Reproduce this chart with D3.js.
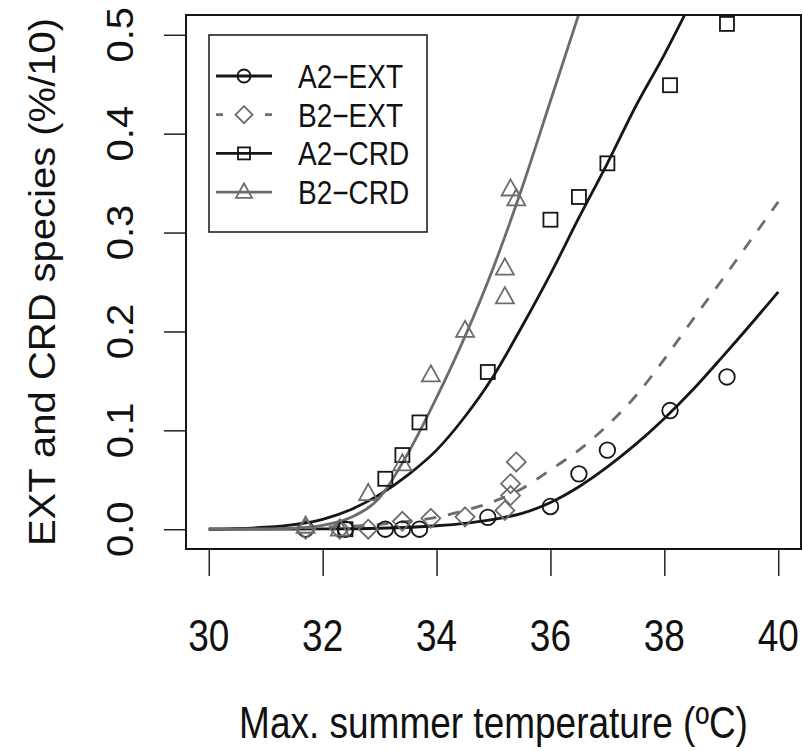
<!DOCTYPE html>
<html>
<head>
<meta charset="utf-8">
<script src="https://cdn.jsdelivr.net/npm/d3@7"></script>
<style>
  body { margin: 0; background: #fff; }
  svg { display: block; }
  text { font-family: "Liberation Sans", Arial, Helvetica, sans-serif; fill: #111; }
</style>
</head>
<body>
<svg width="804" height="751"></svg>
<script>
// observed points
const a2Temp = [31.7, 32.4, 33.1, 33.4, 33.7, 34.9, 36.0, 36.5, 37.0, 38.1, 39.1];
const a2Ext = [0, 0, 0, 0, 0, 0.012, 0.023, 0.056, 0.080, 0.120, 0.154];
const a2CrdTemp = [32.4, 33.1, 33.4, 33.7, 34.9, 36.0, 36.5, 37.0, 38.1, 39.1];
const a2Crd = [0, 0.051, 0.075, 0.108, 0.159, 0.313, 0.336, 0.370, 0.449, 0.511];
const b2Temp = [31.7, 32.3, 32.8, 33.4, 33.9, 34.5, 35.2, 35.3, 35.3, 35.4];
const b2Ext = [0, 0, 0, 0.008, 0.011, 0.0125, 0.019, 0.034, 0.046, 0.068];
const b2CrdTemp = [31.7, 32.3, 32.8, 33.4, 33.9, 34.5, 35.2, 35.2, 35.3, 35.4];
const b2Crd = [0.003, 0, 0.036, 0.066, 0.156, 0.201, 0.235, 0.264, 0.344, 0.334];

// fitted curves
const fitA2ExtX = [30, 31, 32, 33, 34, 34.5, 35, 35.5, 36, 36.5, 37, 37.5, 38, 38.5, 39, 39.5, 40];
const fitA2ExtY = [0, 0.0001, 0.0003, 0.001, 0.0035, 0.006, 0.010, 0.016, 0.027, 0.043, 0.063, 0.086, 0.112, 0.141, 0.173, 0.206, 0.240];
const fitB2ExtX = [30, 31, 32, 33, 33.5, 34, 34.5, 35, 35.5, 36, 36.5, 37, 37.5, 38, 38.5, 39, 39.5, 40];
const fitB2ExtY = [0, 0.0005, 0.002, 0.005, 0.008, 0.012, 0.019, 0.028, 0.041, 0.060, 0.080, 0.105, 0.135, 0.172, 0.212, 0.251, 0.291, 0.331];
const fitA2CrdX = [30, 31, 32, 32.5, 33, 33.5, 34, 34.5, 35, 35.5, 36, 36.5, 37, 37.5, 38, 38.4];
const fitA2CrdY = [0, 0.002, 0.010, 0.020, 0.035, 0.055, 0.080, 0.114, 0.155, 0.205, 0.258, 0.315, 0.370, 0.428, 0.480, 0.525];
const fitB2CrdX = [30, 31, 31.5, 32, 32.5, 33, 33.5, 34, 34.5, 35, 35.5, 36, 36.55];
const fitB2CrdY = [0, 0.0003, 0.0012, 0.004, 0.012, 0.032, 0.077, 0.133, 0.195, 0.265, 0.345, 0.433, 0.53];

const xTicks = [30, 32, 34, 36, 38, 40];
const yTicks = [0, 0.1, 0.2, 0.3, 0.4, 0.5];
const legendNames = ["A2\u2212EXT", "B2\u2212EXT", "A2\u2212CRD", "B2\u2212CRD"];

const black = "#161616";
const gray = "#6c6c6c";
const sy = 1.18; // picture is stretched vertically, so glyphs are taller than wide
const sx = 0.93; // same thing for the rotated texts

const svg = d3.select("svg");
const pLeft = 186, pRight = 801, pTop = 15, pBottom = 549;

const x = d3.scaleLinear().domain([29.6, 40.4]).range([pLeft, pRight]);
const y = d3.scaleLinear().domain([-0.02, 0.52]).range([pBottom, pTop]);

function label(g, tx, ty, str, size) {
	return g.append("text")
		.attr("transform", `translate(${tx},${ty}) scale(1,${sy})`)
		.attr("text-anchor", "middle")
		.attr("font-size", size)
		.text(str);
}

function vlabel(g, tx, ty, str, size) {
	return g.append("text")
		.attr("transform", `translate(${tx},${ty}) scale(${sx},1) rotate(-90)`)
		.attr("text-anchor", "middle")
		.attr("font-size", size)
		.text(str);
}

svg.append("clipPath").attr("id", "plot")
	.append("rect").attr("x", pLeft).attr("y", pTop)
	.attr("width", pRight - pLeft).attr("height", pBottom - pTop);

// axes
const xAxis = svg.append("g").attr("transform", `translate(0,${pBottom})`)
	.call(d3.axisBottom(x).tickValues(xTicks).tickSize(27).tickFormat(""));
const yAxis = svg.append("g").attr("transform", `translate(${pLeft},0)`)
	.call(d3.axisLeft(y).tickValues(yTicks).tickSize(22).tickFormat(""));
[xAxis, yAxis].forEach(a => {
	a.select(".domain").remove();
	a.selectAll("line").attr("stroke", "#222").attr("stroke-width", 1.5);
});

xTicks.forEach(t => label(svg, x(t), 651, t, 37));
yTicks.forEach(t => vlabel(svg, 133, y(t), t.toFixed(1), 40));

label(svg, (pLeft + pRight) / 2, 738, "Max. summer temperature (\u00baC)", 37);
vlabel(svg, 55, (pTop + pBottom) / 2, "EXT and CRD species (%/10)", 40);

// curves
const line = d3.line().x(d => x(d[0])).y(d => y(d[1])).curve(d3.curveMonotoneX);
const curves = svg.append("g").attr("clip-path", "url(#plot)");
const fits = [
	[fitA2ExtX, fitA2ExtY, black, null],
	[fitB2ExtX, fitB2ExtY, gray, "12,12"],
	[fitA2CrdX, fitA2CrdY, black, null],
	[fitB2CrdX, fitB2CrdY, gray, null]
];
fits.forEach(f => {
	curves.append("path")
		.datum(d3.zip(f[0], f[1]))
		.attr("d", line)
		.attr("fill", "none")
		.attr("stroke", f[2])
		.attr("stroke-width", 2.8)
		.attr("stroke-dasharray", f[3]);
});

// marker shapes, r = rough half size
function marker(g, kind, cx, cy, r, color) {
	let m;
	if (kind === "circle") {
		m = g.append("circle").attr("cx", cx).attr("cy", cy).attr("r", r);
	} else if (kind === "square") {
		m = g.append("rect").attr("x", cx - r).attr("y", cy - r).attr("width", 2 * r).attr("height", 2 * r);
	} else if (kind === "diamond") {
		m = g.append("path").attr("d", `M${cx},${cy - r}L${cx + r},${cy}L${cx},${cy + r}L${cx - r},${cy}Z`);
	} else {
		const h = r * 1.8;
		m = g.append("path").attr("d", `M${cx},${cy - h * 0.6}L${cx + r},${cy + h * 0.4}L${cx - r},${cy + h * 0.4}Z`);
	}
	m.attr("fill", "none").attr("stroke", color).attr("stroke-width", 1.8);
}

const pts = svg.append("g");
const series = [
	[a2Temp, a2Ext, "circle", 7.8, black],
	[b2Temp, b2Ext, "diamond", 9.5, gray],
	[a2CrdTemp, a2Crd, "square", 7, black],
	[b2CrdTemp, b2Crd, "triangle", 9, gray]
];
series.forEach(s => {
	s[0].forEach((t, i) => marker(pts, s[2], x(t), y(s[1][i]), s[3], s[4]));
});

// plot box
svg.append("rect")
	.attr("x", pLeft).attr("y", pTop)
	.attr("width", pRight - pLeft).attr("height", pBottom - pTop)
	.attr("fill", "none").attr("stroke", "#161616").attr("stroke-width", 2);

// legend
const lg = svg.append("g");
lg.append("rect").attr("x", 209).attr("y", 35).attr("width", 218).attr("height", 197)
	.attr("fill", "#fff").attr("stroke", "#222").attr("stroke-width", 1.6);
const legendKinds = ["circle", "diamond", "square", "triangle"];
const legendColors = [black, gray, black, gray];
const legendSizes = [6.5, 8.5, 6, 8];
legendNames.forEach((n, i) => {
	const ry = 76 + i * 38.7;
	lg.append("line").attr("x1", 216).attr("x2", 272).attr("y1", ry).attr("y2", ry)
		.attr("stroke", legendColors[i]).attr("stroke-width", 2.8)
		.attr("stroke-dasharray", i === 1 ? "7,42" : null);
	marker(lg, legendKinds[i], 244, ry, legendSizes[i], legendColors[i]);
	lg.append("text")
		.attr("transform", `translate(298,${ry + 12}) scale(1,${sy})`)
		.attr("font-size", 28)
		.text(n);
});
</script>
</body>
</html>
